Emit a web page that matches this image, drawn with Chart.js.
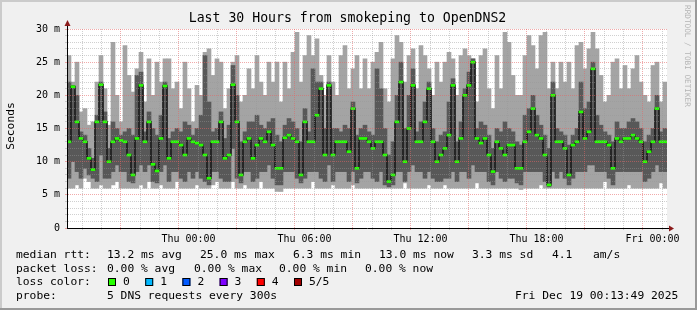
<!DOCTYPE html>
<html lang="en">
<head>
<meta charset="UTF-8">
<title>Last 30 Hours from smokeping to OpenDNS2</title>
<script src="https://cdn.jsdelivr.net/npm/chart.js"></script>
<style>
  html, body { margin: 0; padding: 0; background: #f0f0f0; }
</style>
</head>
<body>
<canvas id="grafico" width="697" height="310"></canvas>
<script>
// 150 passos de 12 min, de Wed 18:13:49 a Fri 00:13:49 (valores em ms)
const maxRtt = [26,22,25,17.5,18,15.5,16,22,26,21,15.5,28,20,16,27.5,23,20.5,24,26.5,19,25.5,20,25,22,25.5,
  25.5,21,22,18,25,21,16,21.5,20,26.5,27,23,25.5,25,18,21,25,26,19,20,24,21,26,22,20,
  25,22,25,19,25,21,26.5,29.5,22,26,29,26,28.5,23,20,26,22,20,26,27.5,21,24,26,21,25.5,
  21,25,26.5,28,21,19,25.5,29,28,22,26,27,21,27.5,26,24,20,25,22,25,26.5,25.5,20,26,27,
  26,25.5,19,26,27,21,18,26,21,29.5,28,23,20,20,26,29,27.5,24,29,29.5,21,25,21,25,22,
  25,21,27.5,28,24,27,29.5,27,23,19,20,25,25.5,21,24.5,21,24,26,22,20,19,24.5,25,19,22]
const q3Rtt = [22,21.5,20,14.5,14,12,10.5,17,22,17.5,12,16,15,14,14.5,15,14,23,23.5,14.5,17.5,15,14,17,22,
  13.5,14.5,15,14.5,16,15.5,14,15,17,26,19,14.5,15,17.5,13.5,15.5,24.5,20,13,14.5,16,16,17,15.5,15,
  16,16.5,14,13,15.5,16.5,16,15,13,18,14.5,24,22,22,15,22,15,15,14.5,15.5,15,19,14,15,15.5,
  14.5,14,24,21,15,11,13,20,25,15,20,24,14.5,16,19,22,15,13,14,14.5,19,22.5,13,16,21,
  23.5,25.5,15,16,15.5,14,12,15,14.5,16,15,14.5,13,12.5,17,18,20,17,15.5,14,12,22,15,14.5,14,
  12.5,14,15,22,18,19,25,17,15.5,14.5,14,13,16,15,15,16,16.5,16,15,13,14,15,20,14.5,15]
const medRtt = [13,21.3,16,13.5,13,10.5,8.8,16,21.6,16,10,13,13.5,13.2,13,11,8,13.5,21.5,13,16,9.6,8.6,13.5,21.4,
  10.5,13,13,12.5,11,13.5,13,12.8,12.5,11,7.5,13,13,16,10.5,11,21.6,16,8,13,13.5,10.5,12.5,13.5,13,
  14.5,12.5,9,9,13.6,14,13.5,13,8,16,13,13,17,21,11,21.5,11,13,13,13,11.5,18,9,13.5,13.5,
  13,12,13,13,11,7,8,16,22,10,15,21.5,13,13,16,21,13,10,11,12,14,21.5,10,13.5,20,
  21.5,25,13.5,12.8,13.5,11,8.5,13,12,11,12.5,12.5,9,9,13,14.5,18,14,13.5,11,6.5,20,13,13,12,
  8,12.5,13,17.5,13.5,14.5,24,13,13,13,12.5,9,13.5,13,13.5,13.5,14,13.5,13,10,11.5,13,18,13,13]
const q1Rtt = [7.5,10,8.5,7.5,9,8,7.5,7,11,7.5,7.5,8.5,9.5,8.5,8.5,7,6.8,8.5,9.5,8.5,9.5,7,6.8,8.5,9.5,
  7,8.5,8.5,7.5,7,8.5,7.5,8.5,7.5,7,6.5,8.5,8.5,7.5,7,7,12,7.5,6.8,8.5,8.5,7,7.5,8.5,8.5,
  9.5,7.5,6.5,6.5,8.5,8.5,8.5,7.5,6.8,7.5,8.5,8.5,8.5,7.5,7,9.5,7,8.5,8.5,8.5,7,8.5,6.8,7.5,8.5,
  8.5,7.5,7,8.5,6.5,6.2,6.5,8.5,8.5,7,8.5,9.5,8.5,8.5,7.5,8.5,7.5,7,7,7.5,7.5,8.5,7,8.5,8.5,
  7.5,9.5,8.5,8.5,8.5,7,6.5,8.5,7.5,7,7.5,7.5,6.8,6.5,8.5,8.5,8.5,8.5,8.5,7,6.2,8.5,7.5,8.5,7.5,
  6.5,7.5,8.5,8.5,8.5,9.5,9.5,8.5,8.5,8.5,7.5,6.5,8.5,8.5,8.5,8.5,8.5,8.5,8.5,7,7.5,8.5,9.5,8.5,8.5]
const minRtt = [6,6,6.5,6,7.5,7,6,6,6.5,6,6,6.5,7,6,6,6,6,6,6.5,6,7,6,6,6.5,6,
  6,6,7,6,6,6,6,6.5,6,6,6,6.5,7,6,6,6,7,6,6,6.5,6,6,6,7,6,
  6,6,5.5,5.5,6,6,6,6,6,6,6,7,6,6,6,6,6.5,6,6,6,6,6.5,6,6,6,
  6,6,6,6,6,6,6,6,6,6.8,6,6,6,6,6,6.5,6,6,6,6.5,6,6,6,6,6,
  6,6,6.8,6,6,6,6,6,6,6,6,6,6,5.8,6,6,6,6,6.5,6,6,6,6,6,6,
  6,6,6,6,6,6,6,6,6,7,6,6,6,6,6,6.5,6,6,6,6,6,6,6,6.8,6]

// eixo do tempo em horas a partir de Thu 00:00
const inicioH = -5.7697
const fimH = 24.2303
const horasMarca = [0, 6, 12, 18, 24]
const textoMarca = ['Thu 00:00', 'Thu 06:00', 'Thu 12:00', 'Thu 18:00', 'Fri 00:00']
const lossNomes = ['0', '1', '2', '3', '4', '5/5']
const lossCores = ['#26ff00', '#00b8ff', '#0059ff', '#7e00ff', '#ff0000', '#a10000']

const passos = minRtt.map((_, i) => i)
const corGrid = 'rgba(150,150,150,0.45)'
const corMGrid = 'rgba(230,100,100,0.55)'
const fonteMono = "'DejaVu Sans Mono', monospace"

const linhasRodape = [
  [255, [[16, 'median rtt:'], [107, '13.2 ms avg'], [200, '25.0 ms max'], [293, '6.3 ms min'], [379, '13.0 ms now'], [472, '3.3 ms sd'], [552, '4.1'], [593, 'am/s']]],
  [269, [[16, 'packet loss:'], [107, '0.00 % avg'], [194, '0.00 % max'], [279, '0.00 % min'], [365, '0.00 % now']]],
  [282, [[16, 'loss color:']]],
  [296, [[16, 'probe:'], [107, '5 DNS requests every 300s'], [515, 'Fri Dec 19 00:13:49 2025']]]
]

const moldura = {
  id: 'moldura',
  beforeDraw(chart) {
    const c = chart.ctx, a = chart.chartArea
    c.save()
    c.fillStyle = '#f0f0f0'
    c.fillRect(0, 0, chart.width, chart.height)
    c.fillStyle = '#cbcbcb'
    c.fillRect(0, 0, chart.width, 2)
    c.fillRect(0, 0, 2, chart.height)
    c.fillStyle = '#999999'
    c.fillRect(0, chart.height - 2, chart.width, 2)
    c.fillRect(chart.width - 2, 0, 2, chart.height)
    c.fillStyle = '#ffffff'
    c.fillRect(a.left, a.top, a.right - a.left, a.bottom - a.top)
    c.restore()
  },
  afterDraw(chart) {
    const c = chart.ctx, a = chart.chartArea
    c.save()
    // setas dos eixos
    c.strokeStyle = '#000'
    c.lineWidth = 1
    c.beginPath()
    c.moveTo(a.left + 0.5, a.top)
    c.lineTo(a.left + 0.5, a.top - 4)
    c.moveTo(a.right, a.bottom + 0.5)
    c.lineTo(a.right + 3, a.bottom + 0.5)
    c.stroke()
    c.fillStyle = '#8b1a1a'
    c.beginPath()
    c.moveTo(a.left + 0.5, a.top - 9)
    c.lineTo(a.left - 2.5, a.top - 3)
    c.lineTo(a.left + 3.5, a.top - 3)
    c.closePath()
    c.fill()
    c.beginPath()
    c.moveTo(a.right + 7, a.bottom + 0.5)
    c.lineTo(a.right + 2, a.bottom - 2.5)
    c.lineTo(a.right + 2, a.bottom + 3.5)
    c.closePath()
    c.fill()

    // titulo
    c.fillStyle = '#000'
    c.font = '13.2px ' + fonteMono
    c.textAlign = 'center'
    c.textBaseline = 'middle'
    c.fillText('Last 30 Hours from smokeping to OpenDNS2', 347.5, 19)

    // titulo do eixo y
    c.save()
    c.translate(11, 126)
    c.rotate(-Math.PI / 2)
    c.font = '11.3px ' + fonteMono
    c.fillText('Seconds', 0, 0)
    c.restore()

    // texto lateral
    c.save()
    c.translate(687, 5)
    c.rotate(Math.PI / 2)
    c.fillStyle = '#b4b4b4'
    c.font = '7.7px ' + fonteMono
    c.textAlign = 'left'
    c.fillText('RRDTOOL / TOBI OETIKER', 0, 0)
    c.restore()

    // rodape
    c.font = '11.3px ' + fonteMono
    c.textAlign = 'left'
    for (const [y, partes] of linhasRodape) {
      for (const [x, t] of partes) c.fillText(t, x, y)
    }
    let x = 108
    for (let i = 0; i < lossNomes.length; i++) {
      c.fillStyle = lossCores[i]
      c.fillRect(x, 278, 8, 8)
      c.strokeStyle = '#000'
      c.strokeRect(x + 0.5, 278.5, 7, 7)
      c.fillStyle = '#000'
      c.fillText(lossNomes[i], x + 15, 282)
      x += 37.2
    }
    c.restore()
  }
}

new Chart(document.getElementById('grafico'), {
  type: 'bar',
  data: {
    labels: passos,
    datasets: [
      {
        label: 'smoke ext',
        data: minRtt.map((v, i) => [v, maxRtt[i]]),
        backgroundColor: '#a4a4a4',
        xAxisID: 'x', yAxisID: 'y',
        order: 4
      },
      {
        label: 'smoke int',
        data: q1Rtt.map((v, i) => [v, q3Rtt[i]]),
        backgroundColor: '#585858',
        xAxisID: 'x', yAxisID: 'y',
        order: 3
      },
      {
        type: 'line',
        label: 'median',
        data: medRtt,
        borderColor: '#1a1a1a',
        borderWidth: 1.6,
        pointRadius: 0,
        stepped: 'middle',
        xAxisID: 'x', yAxisID: 'y',
        order: 2
      },
      {
        label: 'loss 0',
        data: medRtt.map(v => [v - 0.15, v + 0.15]),
        backgroundColor: '#26ff00',
        xAxisID: 'x', yAxisID: 'y',
        order: 1
      }
    ]
  },
  options: {
    responsive: false,
    animation: false,
    layout: { padding: { top: 29, right: 30, left: 0, bottom: 0 } },
    datasets: {
      bar: { grouped: false, barPercentage: 1, categoryPercentage: 1, borderWidth: 0 }
    },
    plugins: { legend: { display: false }, tooltip: { enabled: false } },
    scales: {
      x: { type: 'category', display: false, offset: true },
      xt: {
        type: 'linear',
        position: 'bottom',
        min: inicioH,
        max: fimH,
        afterBuildTicks: s => {
          const t = []
          for (let h = Math.ceil(inicioH); h <= fimH; h++) t.push({ value: h })
          s.ticks = t
        },
        afterFit: s => { s.height = 82 },
        ticks: {
          autoSkip: false,
          maxRotation: 0,
          padding: 3,
          color: '#000',
          font: { family: fonteMono, size: 10 },
          callback: v => {
            const k = horasMarca.indexOf(v)
            return k >= 0 ? textoMarca[k] : ''
          }
        },
        grid: {
          z: 1,
          tickLength: 2,
          color: c => (c.tick && c.tick.value % 3 === 0) ? corMGrid : corGrid
        },
        border: { color: '#000', width: 1, z: 2, dash: [1, 1] }
      },
      y: {
        min: 0,
        max: 30,
        afterFit: s => { s.width = 67 },
        ticks: {
          stepSize: 1,
          autoSkip: false,
          padding: 5,
          color: '#000',
          font: { family: fonteMono, size: 10 },
          callback: v => v === 0 ? '0' : (v % 5 === 0 ? v + ' m' : '')
        },
        grid: {
          z: 1,
          tickLength: 2,
          color: c => (c.tick && c.tick.value % 5 === 0) ? corMGrid : corGrid
        },
        border: { color: '#000', width: 1, z: 2, dash: [1, 1] }
      }
    }
  },
  plugins: [moldura]
})
</script>
</body>
</html>
